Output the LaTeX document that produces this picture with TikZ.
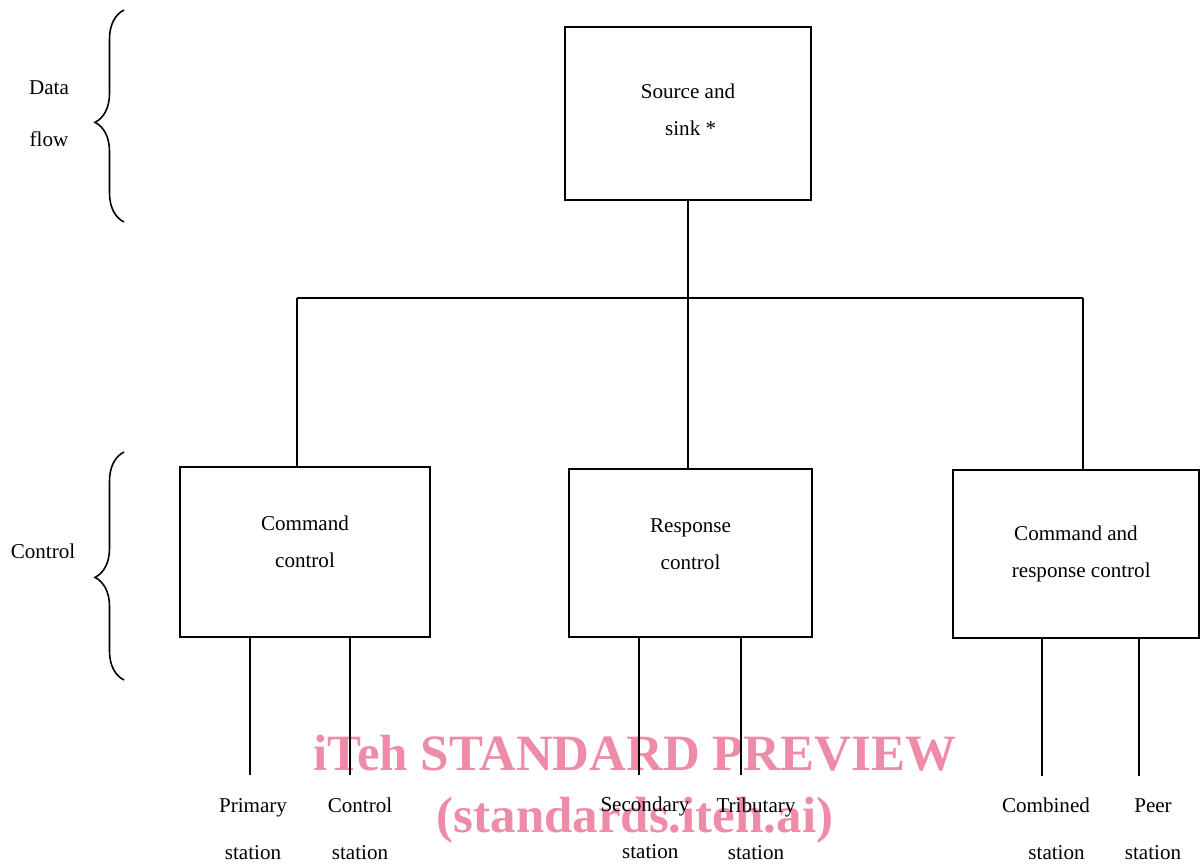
\documentclass[tikz,border=0pt]{standalone}
\usepackage{fontspec}
\setmainfont{Liberation Serif}
\usetikzlibrary{decorations.pathreplacing}
\usepackage{xcolor}
\definecolor{wmpink}{RGB}{238,140,168}

\begin{document}
\begin{tikzpicture}[x=0.02cm, y=-0.02cm, line width=0.9pt,
  font=\fontsize{12}{21}\selectfont,
  ctlbox/.style={draw, line width=1.1pt, rectangle, align=center, inner sep=0pt},
  stnlabel/.style={align=center, font=\fontsize{12}{27}\selectfont},
  sidebrace/.style={decorate, decoration={brace, amplitude=0.58cm}}]

  \useasboundingbox (0,0) rectangle (1201,867);

  % ==========================================
  % Watermark (behind the drawing)
  % ==========================================
  \node[text=wmpink, align=center, font=\bfseries\fontsize{29}{35}\selectfont] (wmark) at (635,789)
    {iTeh STANDARD PREVIEW\\(standards.iteh.ai)};

  % ==========================================
  % SECTION 1: Data flow level
  % ==========================================
  \node[ctlbox, minimum width=4.92cm, minimum height=3.46cm, text depth=0.16cm] (src) at (688,113.5) {Source and\\ \ sink *};

  % Side brace and label
  \draw[sidebrace, decoration={aspect=0.47}] (124,222) -- (124,10);
  \node[align=center, font=\fontsize{12}{29.5}\selectfont] (dataflow) at (49,114) {Data\\flow};

  % Bus to the control boxes
  \coordinate (bus) at (688,298);
  \coordinate (busL) at (297,298);
  \coordinate (busR) at (1083,298);
  \draw (src.south) -- (bus);
  \draw (busL) -- (busR);

  % ==========================================
  % SECTION 2: Control level
  % ==========================================
  \node[ctlbox, minimum width=5cm, minimum height=3.4cm, text depth=0.4cm] (cmdctl) at (305,552) {Command\\control};
  \node[ctlbox, minimum width=4.86cm, minimum height=3.36cm, text depth=0.36cm] (rspctl) at (690.5,553) {Response\\control};
  \node[ctlbox, minimum width=4.92cm, minimum height=3.36cm] (cmdrsp) at (1076,554) {Command and\\ \ \ response control};

  \draw (busL) -- (busL |- cmdctl.north);
  \draw (bus) -- (bus |- rspctl.north);
  \draw (busR) -- (busR |- cmdrsp.north);

  % Side brace and label
  \draw[sidebrace, decoration={aspect=0.45}] (124,680) -- (124,452);
  \node (ctllabel) at (43,551) {Control};

  % ==========================================
  % SECTION 3: Stations
  % ==========================================
  \coordinate (priF) at (250,775);
  \coordinate (conF) at (350,775);
  \coordinate (secF) at (639,775);
  \coordinate (triF) at (741,775);
  \coordinate (comF) at (1042,776);
  \coordinate (peeF) at (1139,776);

  \draw (priF |- cmdctl.south) -- (priF);
  \draw (conF |- cmdctl.south) -- (conF);
  \draw (secF |- rspctl.south) -- (secF);
  \draw (triF |- rspctl.south) -- (triF);
  \draw (comF |- cmdrsp.south) -- (comF);
  \draw (peeF |- cmdrsp.south) -- (peeF);

  \node[stnlabel] (pri) at (253,829) {Primary\\station};
  \node[stnlabel] (con) at (360,829) {Control\\station};
  \node[stnlabel] (sec) at (645,828) {Secondary\\\ \ station};
  \node[stnlabel] (tri) at (756,829) {Tributary\\station};
  \node[stnlabel] (com) at (1046,829) {Combined\\\ \ \ \ station};
  \node[stnlabel] (pee) at (1153,829) {Peer\\station};

\end{tikzpicture}
\end{document}
